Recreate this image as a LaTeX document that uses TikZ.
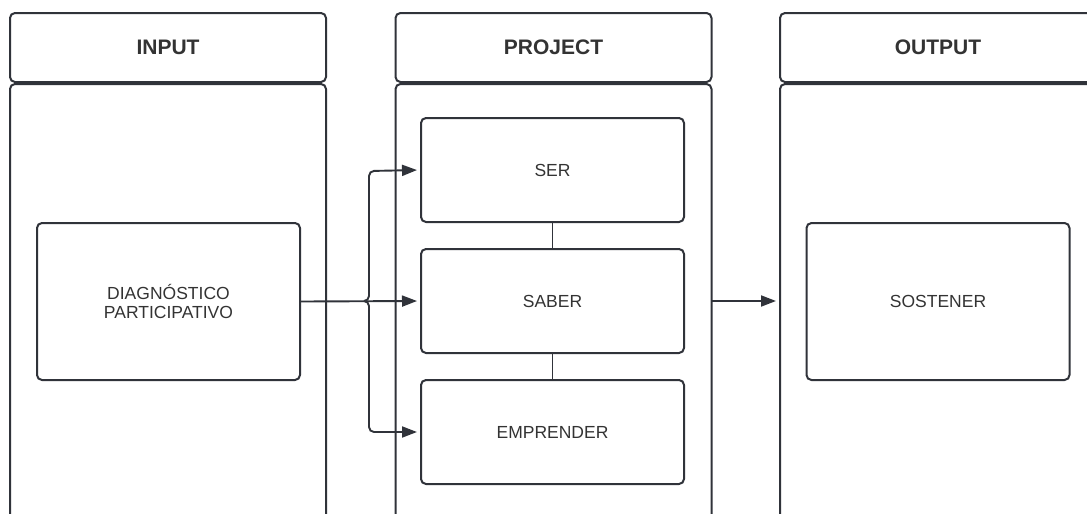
\documentclass[tikz,border=0pt]{standalone}
\usepackage{fontspec}
\setmainfont{Liberation Sans}
\usetikzlibrary{arrows.meta}
\definecolor{ln}{HTML}{30333A}
\definecolor{tx}{HTML}{333333}
\begin{document}
\begin{tikzpicture}[x=1pt,y=-1pt,
  box/.style={draw=ln,line width=2pt,rounded corners=5pt,rectangle,inner sep=0pt,text=tx,align=center},
  head/.style={box,minimum width=316pt,minimum height=69pt,font=\fontsize{21}{24}\selectfont\bfseries},
  col/.style={box,minimum width=316pt,minimum height=470pt},
  item/.style={box,minimum width=263pt,font=\fontsize{17.5}{19.5}\selectfont},
  conn/.style={draw=ln,line width=1.9pt},
  arr/.style={conn,-{Triangle[length=15pt,width=11pt]},shorten >=3pt}]
\useasboundingbox (0,0) rectangle (1087,514);
\clip (0,0) rectangle (1087,514);
\node[head] (hin) at (168,47.5) {INPUT};
\node[head] (hpr) at (553.5,47.5) {PROJECT};
\node[head] (hout) at (938,47.5) {OUTPUT};
\node[col] (bin) at (168,319) {};
\node[col] (bpr) at (553.5,319) {};
\node[col] (bout) at (938,319) {};
\node[item,minimum height=157pt] (diag) at (168.5,301.5) {DIAGNÓSTICO\\PARTICIPATIVO};
\node[item,minimum height=104pt] (ser) at (552.5,170) {SER};
\node[item,minimum height=104pt] (saber) at (552.5,301) {SABER};
\node[item,minimum height=104pt] (empr) at (552.5,432) {EMPRENDER};
\node[item,minimum height=157pt] (sost) at (938,301.5) {SOSTENER};
\coordinate (j) at (364,301);
\draw[conn] (ser.south) -- (saber.north);
\draw[conn] (saber.south) -- (empr.north);
\draw[arr] (diag.east) -- (saber.west);
\draw[arr,rounded corners=5pt] (j) -| (369,171) -- (ser.west);
\draw[arr,rounded corners=5pt] (j) -| (369,432) -- (empr.west);
\draw[arr] (711,301) -- (bout.west |- 711,301);
\end{tikzpicture}
\end{document}
